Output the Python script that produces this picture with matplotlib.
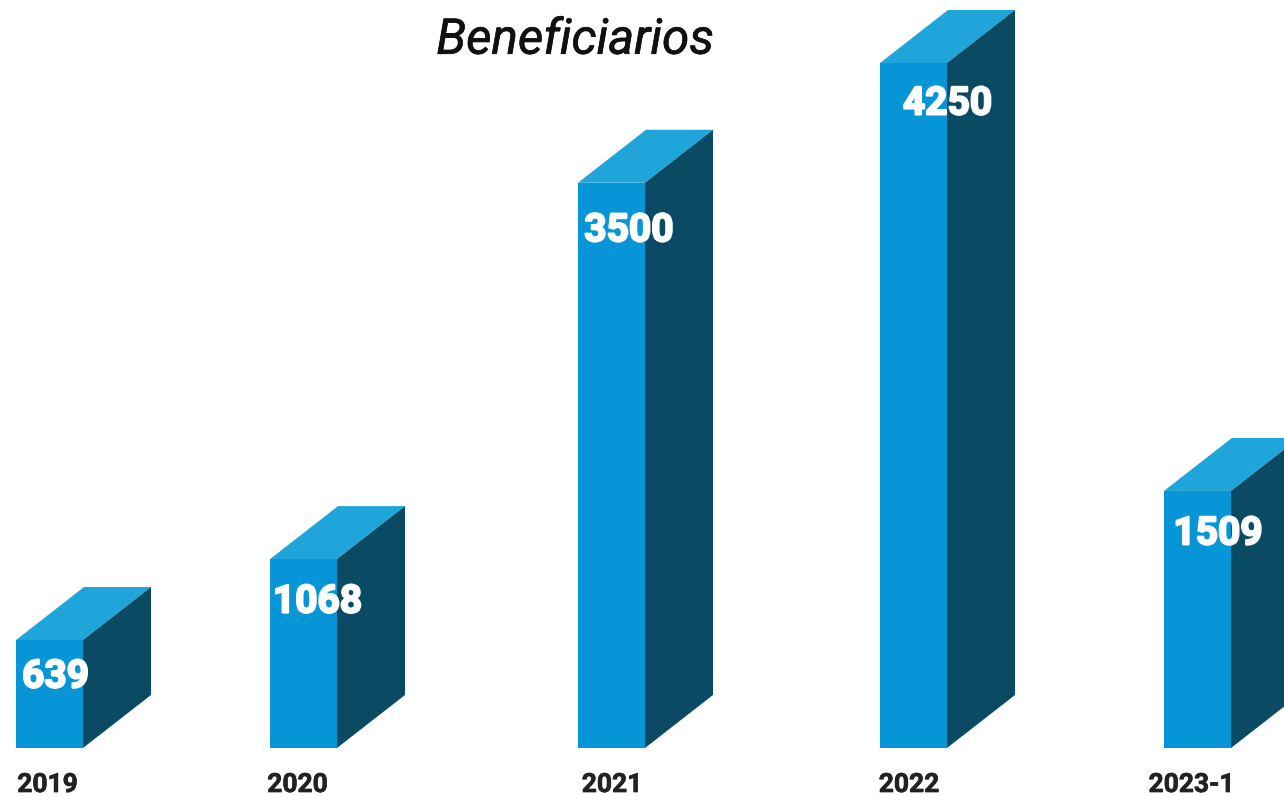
import matplotlib
matplotlib.use('Agg')
import matplotlib.pyplot as plt
from matplotlib.patches import Polygon
import matplotlib.patheffects as pe

years = ['2019', '2020', '2021', '2022', '2023-1']
labels = ['639', '1068', '3500', '4250', '1509']
# bar heights as drawn in the picture, the small bars are a bit taller than their label
drawn = [670, 1172, 3507, 4250, 1595]

W, H = 1284, 796
base_px = 748
px_per_unit = 685 / 4250

lefts = [16, 270, 578, 880, 1164]
bar_w = 67
dx = 68
dy = 53 / px_per_unit

label_x = [55.5, 317.5, 629, 947.5, 1218]
label_off = [-37, -43, -48, -41, -43]
year_x = [47.5, 297.5, 612, 909, 1191.5]

front = '#0696d7'
top = '#1fa5d9'
side = '#0a4a62'

fig = plt.figure(figsize=(W / 100, H / 100), dpi=100)
ax = fig.add_axes([0, 0, 1, 1])
ax.set_xlim(0, W)
ax.set_ylim(-(H - base_px) / px_per_unit, base_px / px_per_unit)
ax.axis('off')

ax.bar(lefts, drawn, width=bar_w, align='edge', color=front, linewidth=0, zorder=2)

for x, h in zip(lefts, drawn):
    r = x + bar_w
    ax.add_patch(Polygon([(x, h), (r, h), (r + dx, h + dy), (x + dx, h + dy)],
                         closed=True, fc=top, ec='none', zorder=2))
    ax.add_patch(Polygon([(r, 0), (r + dx, dy), (r + dx, h + dy), (r, h)],
                         closed=True, fc=side, ec='none', zorder=2))

for x, h, lab, off in zip(label_x, drawn, labels, label_off):
    t = ax.annotate(lab, (x, h), xytext=(0, off * 0.72), textcoords='offset points',
                    ha='center', va='center', color='white', fontsize=28,
                    fontweight='bold', family='Roboto', zorder=3)
    t.set_path_effects([pe.withStroke(linewidth=1.5, foreground='white')])

for x, yr in zip(year_x, years):
    t = ax.text(x, -(785 - base_px) / px_per_unit, yr, ha='center', va='center',
                fontsize=19, fontweight='bold', family='Roboto', color='#222222')
    t.set_path_effects([pe.withStroke(linewidth=0.5, foreground='#222222')])

t = fig.text(575 / W, 1 - 40 / H, 'Beneficiarios', ha='center', va='center',
             fontsize=35.5, style='italic', family='Roboto', color='#111111')
t.set_path_effects([pe.withStroke(linewidth=0.5, foreground='#111111')])

fig.savefig('out.png', dpi=100)
